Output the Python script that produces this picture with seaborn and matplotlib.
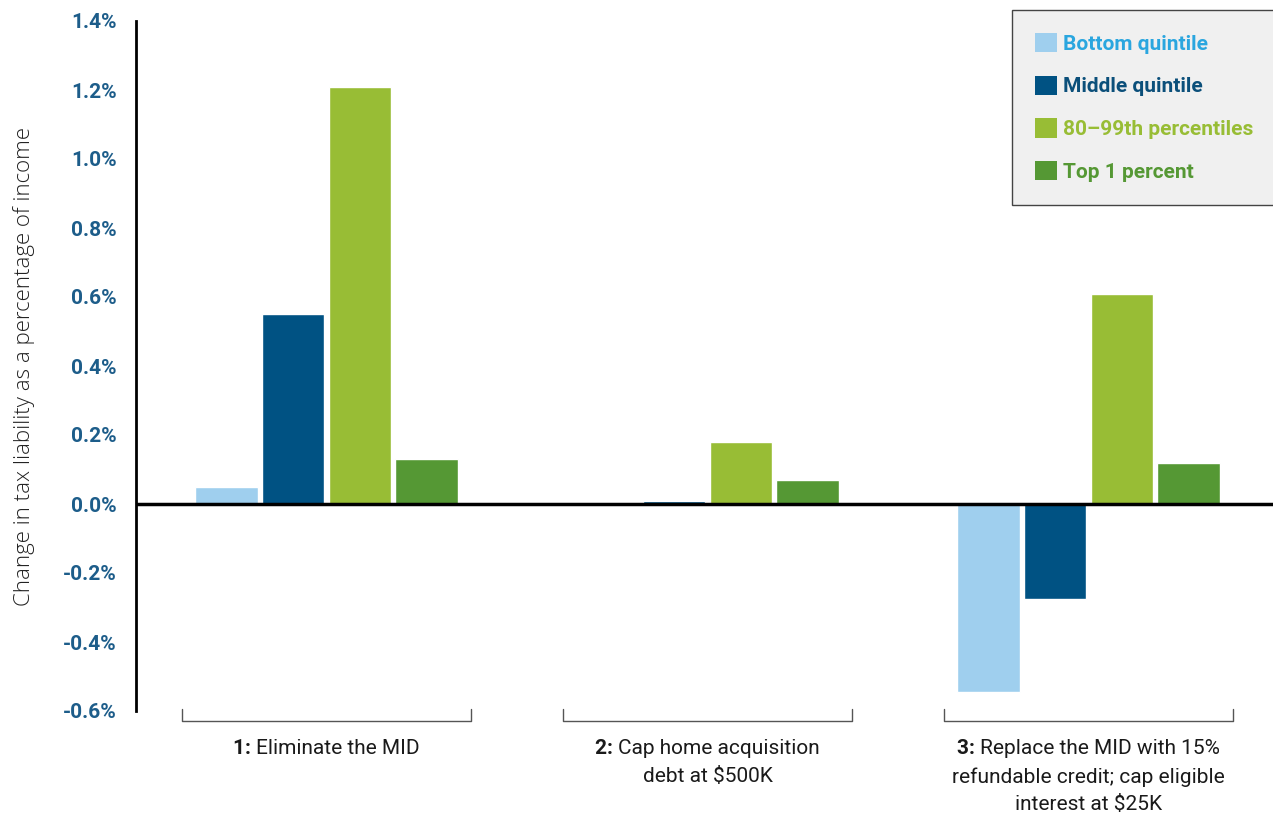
import numpy as np
import pandas as pd
import matplotlib
matplotlib.use("Agg")
import matplotlib.pyplot as plt
import seaborn as sns
from matplotlib.patches import Patch

# data
options = ["1", "2", "3"]
option_bold = ["1:", "2:", "3:"]
option_text = [["Eliminate the MID"],
               ["Cap home acquisition", "debt at $500K"],
               ["Replace the MID with 15%", "refundable credit; cap eligible", "interest at $25K"]]
groups = ["Bottom quintile", "Middle quintile", "80\u201399th percentiles", "Top 1 percent"]
bottom_quintile = [0.05, 0.0, -0.545]
middle_quintile = [0.55, 0.01, -0.275]
pct_80_99 = [1.21, 0.18, 0.61]
top_1 = [0.13, 0.07, 0.12]
yticks = [-0.6, -0.4, -0.2, 0.0, 0.2, 0.4, 0.6, 0.8, 1.0, 1.2, 1.4]

bar_colors = ["#9fcfee", "#005283", "#98bd35", "#559834"]
text_colors = ["#2aa6df", "#0b4f7a", "#98bd35", "#559834"]

df = pd.DataFrame({
    "option": options * 4,
    "group": np.repeat(groups, 3),
    "value": bottom_quintile + middle_quintile + pct_80_99 + top_1,
})

sns.set_style("white")
plt.rcParams["font.family"] = ["Roboto", "DejaVu Sans"]

fig = plt.figure(figsize=(12.73, 8.16), dpi=100)
ax = fig.add_axes([136 / 1273, 1 - 711 / 816, 1137 / 1273, 690 / 816])

sns.barplot(data=df, x="option", y="value", hue="group", order=options, hue_order=groups,
            palette=bar_colors, width=0.70, gap=0.065, saturation=1, ax=ax, legend=False)

ax.set_xlim(-0.5, 2.484)
ax.set_ylim(-0.6, 1.4)
ax.axhline(0, color="black", lw=2.5, zorder=5)

for s in ["top", "right", "bottom"]:
    ax.spines[s].set_visible(False)
ax.spines["left"].set_color("black")
ax.spines["left"].set_linewidth(2)

ax.set_yticks(yticks)
ax.set_yticklabels([f"{v:.1f}%" for v in yticks], fontsize=15, fontweight="bold", color="#1d5d8a")
ax.tick_params(axis="y", length=0, pad=14)
ax.set_xticks([])
ax.set_xlabel("")
ax.set_ylabel("Change in tax liability as a percentage of income", fontsize=16,
              family=["Open Sans", "DejaVu Sans"], fontweight="light", color="#222222")
ax.yaxis.set_label_coords(-0.089, 0.5)

# group brackets and labels under the axis
renderer = fig.canvas.get_renderer()
line_h = 28  # px between label lines
fs = 15
y0 = -0.055
trans = ax.get_xaxis_transform()
for i in range(len(options)):
    xs = [i - 0.38, i - 0.38, i + 0.38, i + 0.38]
    ys = [-0.593, -0.63, -0.63, -0.593]
    ax.plot(xs, ys, color="#555555", lw=1, clip_on=False)

    tb = ax.text(i, y0, option_bold[i] + " ", transform=trans, ha="left", va="center",
                 fontsize=fs, fontweight="bold")
    tr = ax.text(i, y0, option_text[i][0], transform=trans, ha="left", va="center", fontsize=fs)
    wb = tb.get_window_extent(renderer).width
    wr = tr.get_window_extent(renderer).width
    tb.remove()
    tr.remove()
    ax.annotate(option_bold[i] + " ", (i, y0), xycoords=trans,
                xytext=(-(wb + wr) / 2 * 72 / fig.dpi, 0), textcoords="offset points",
                ha="left", va="center", fontsize=fs, fontweight="bold", color="#1a1a1a")
    ax.annotate(option_text[i][0], (i, y0), xycoords=trans,
                xytext=((wb - (wb + wr) / 2) * 72 / fig.dpi, 0), textcoords="offset points",
                ha="left", va="center", fontsize=fs, color="#1a1a1a")
    for k, line in enumerate(option_text[i][1:], start=1):
        ax.annotate(line, (i, y0), xycoords=trans,
                    xytext=(0, -k * line_h * 72 / fig.dpi), textcoords="offset points",
                    ha="center", va="center", fontsize=fs, color="#1a1a1a")

handles = [Patch(facecolor=c, edgecolor="none") for c in bar_colors]
leg = ax.legend(handles, groups, loc="upper left", bbox_to_anchor=(1012 / 1273, 1 - 10 / 816),
                bbox_transform=fig.transFigure, frameon=True, fancybox=False, framealpha=1,
                facecolor="#f0f0f0", edgecolor="#444444", fontsize=15, handlelength=1.05,
                handleheight=1.05, labelspacing=1.05, borderpad=1.1, handletextpad=0.3,
                borderaxespad=0)
for t, c in zip(leg.get_texts(), text_colors):
    t.set_color(c)
    t.set_fontweight("bold")

fig.savefig("out.png", dpi=100)
